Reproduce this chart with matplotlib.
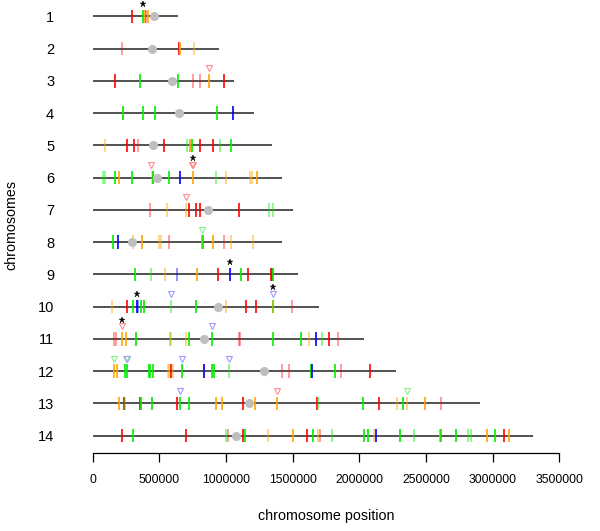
import matplotlib
matplotlib.use("Agg")
import matplotlib.pyplot as plt

plt.rcParams["font.family"] = ["Liberation Sans", "DejaVu Sans"]

# chromosome lengths and centromere positions (kb)
chrom_ids = list(range(1, 15))
chrom_len = [643, 947, 1062, 1207, 1344, 1420, 1502, 1420, 1542, 1694, 2037, 2275, 2906, 3300]
centromere = [457, 445, 595, 647, 455, 480, 865, 297, None, 937, 832, 1284, 1172, 1072]

# feature ticks per chromosome: (position kb, colour code); upper = solid, lower = faded
features = {
    1: [(295, "R"), (377, "G"), (392, "O"), (402, "r"), (418, "O")],
    2: [(222, "r"), (650, "R"), (657, "O"), (762, "o")],
    3: [(170, "R"), (355, "G"), (637, "G"), (750, "r"), (802, "r"), (872, "O"), (987, "R")],
    4: [(227, "o"), (229, "G"), (380, "G"), (467, "G"), (932, "G"), (1055, "B")],
    5: [(90, "o"), (257, "R"), (312, "R"), (342, "r"), (532, "R"), (705, "g"), (730, "O"),
        (747, "G"), (807, "R"), (905, "R"), (952, "g"), (1037, "G")],
    6: [(77, "g"), (90, "g"), (170, "G"), (197, "O"), (297, "G"), (442, "o"), (450, "r"),
        (455, "G"), (572, "G"), (655, "B"), (750, "O"), (927, "g"), (1002, "o"), (1180, "o"),
        (1192, "o"), (1232, "O")],
    7: [(427, "r"), (555, "o"), (697, "o"), (722, "R"), (775, "R"), (802, "R"), (1097, "R"),
        (1320, "g"), (1355, "g")],
    8: [(155, "G"), (190, "B"), (305, "o"), (370, "O"), (500, "o"), (512, "o"), (570, "r"),
        (820, "O"), (827, "G"), (905, "O"), (982, "r"), (1035, "o"), (1205, "o")],
    9: [(317, "G"), (440, "g"), (545, "o"), (635, "b"), (780, "O"), (940, "R"), (1027, "B"),
        (1112, "G"), (1162, "R"), (1340, "R"), (1345, "R"), (1352, "G")],
    10: [(147, "o"), (257, "R"), (305, "G"), (330, "B"), (337, "b"), (362, "G"), (382, "G"),
         (585, "g"), (777, "G"), (1002, "o"), (1150, "R"), (1225, "R"), (1350, "G"),
         (1352, "o"), (1497, "r")],
    11: [(162, "r"), (172, "r"), (217, "O"), (250, "O"), (327, "G"), (577, "g"), (585, "o"),
         (702, "o"), (722, "G"), (897, "G"), (1095, "r"), (1107, "r"), (1352, "G"),
         (1562, "G"), (1625, "o"), (1675, "B"), (1722, "g"), (1772, "R"), (1840, "r")],
    12: [(160, "O"), (182, "O"), (245, "G"), (255, "G"), (422, "G"), (432, "G"), (455, "G"),
         (567, "o"), (575, "o"), (587, "R"), (605, "o"), (670, "G"), (832, "o"), (837, "B"),
         (895, "G"), (907, "G"), (1025, "g"), (1419, "r"), (1474, "r"), (1637, "G"),
         (1647, "B"), (1817, "G"), (1860, "r"), (2080, "R")],
    13: [(197, "O"), (237, "R"), (245, "g"), (352, "R"), (360, "G"), (445, "G"), (632, "R"),
         (657, "G"), (725, "G"), (925, "O"), (970, "O"), (1127, "R"), (1217, "O"), (1382, "O"),
         (1682, "R"), (1690, "g"), (2027, "G"), (2149, "R"), (2284, "o"), (2327, "G"),
         (2354, "o"), (2494, "O"), (2609, "r")],
    14: [(220, "R"), (302, "G"), (700, "R"), (999, "g"), (1017, "r"), (1130, "R"), (1142, "G"),
         (1312, "o"), (1504, "O"), (1609, "R"), (1649, "G"), (1692, "o"), (1704, "r"),
         (1797, "g"), (2034, "G"), (2061, "G"), (2112, "o"), (2121, "B"), (2301, "G"),
         (2411, "g"), (2601, "O"), (2609, "G"), (2721, "G"), (2816, "g"), (2836, "g"),
         (2956, "O"), (3016, "G"), (3083, "R"), (3121, "O")],
}

# open triangles above features: chromosome, position kb, colour code
tri_chr = [3, 6, 6, 6, 7, 8, 10, 10, 11, 11, 12, 12, 12, 12, 12, 13, 13, 13]
tri_pos = [872, 440, 748, 756, 697, 820, 585, 1350, 217, 897, 160, 250, 257, 670, 1025, 657, 1382, 2354]
tri_col = ["r", "r", "r", "r", "r", "g", "b", "b", "r", "b", "g", "g", "b", "b", "b", "b", "r", "g"]

# asterisks
star_chr = [1, 6, 9, 10, 10, 11]
star_pos = [377, 752, 1027, 330, 1350, 217]

x_ticks = [0, 500000, 1000000, 1500000, 2000000, 2500000, 3000000, 3500000]

COLORS = {
    "R": ("#FF0000", 1.0), "r": ("#FF0000", 0.45),
    "O": ("#FFA500", 1.0), "o": ("#FFA500", 0.55),
    "G": ("#00EE00", 1.0), "g": ("#00EE00", 0.5),
    "B": ("#0000FF", 1.0), "b": ("#0000FF", 0.5),
}
TRI_COLORS = {"r": "#FF8C8C", "g": "#8CEE8C", "b": "#9C9CFF"}

fig = plt.figure(figsize=(6.0, 5.31), dpi=100)
ax = fig.add_axes([0.1, 0.1469, 0.8833, 0.8531])

for cid, length, cen in zip(chrom_ids, chrom_len, centromere):
    ax.plot([0, length * 1000], [cid, cid], color="#222222", lw=1.1, zorder=1,
            solid_capstyle="butt")
    for pos, code in features[cid]:
        col, a = COLORS[code]
        ax.plot([pos * 1000, pos * 1000], [cid - 0.21, cid + 0.21], color=col, alpha=a,
                lw=1.2, zorder=2, solid_capstyle="butt")
    if cen is not None:
        ax.plot(cen * 1000, cid, "o", ms=5.5, color="#BEBEBE", mec="#BEBEBE", zorder=3)

for c, p, col in zip(tri_chr, tri_pos, tri_col):
    ax.plot(p * 1000, c - 0.39, "v", ms=5, mfc="none", mec=TRI_COLORS[col], mew=0.8, zorder=4)

tri_keys = set(zip(tri_chr, tri_pos))
for c, p in zip(star_chr, star_pos):
    has_tri = any(tc == c and abs(tp - p) < 15 for tc, tp in tri_keys)
    off = 0.6 if has_tri else 0.39
    ax.plot(p * 1000, c - off, "*", ms=5, color="black", mew=0.3, zorder=5)

ax.set_xlim(-244400, 3728600)
ax.set_ylim(14.537, 0.4947)

for side in ["top", "right", "left"]:
    ax.spines[side].set_visible(False)
ax.spines["bottom"].set_bounds(0, 3500000)
ax.spines["bottom"].set_linewidth(0.9)
ax.set_xticks(x_ticks)
ax.set_xticklabels([str(t) for t in x_ticks])
ax.tick_params(axis="x", direction="out", length=6.5, width=0.9, pad=8.5, labelsize=8.8)
ax.set_yticks(chrom_ids)
ax.set_yticklabels([str(c) for c in chrom_ids])
ax.tick_params(axis="y", length=0, pad=4.2, labelsize=10.5)

fig.text(326 / 600, 1 - 516 / 531, "chromosome position", ha="center", va="center", fontsize=10.3)
fig.text(11.7 / 600, 1 - 225 / 531, "chromosomes", ha="center", va="center", rotation=90,
         fontsize=10.3)

fig.savefig("out.png", dpi=100, facecolor="white")
